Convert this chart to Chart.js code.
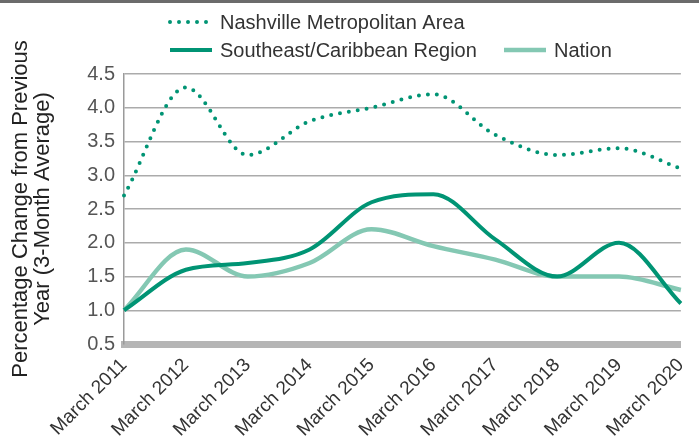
<!DOCTYPE html>
<html lang="en">
<head>
<meta charset="utf-8">
<style>
  html, body { margin: 0; padding: 0; background: #fff; }
  #wrap { width: 699px; height: 448px; }
</style>
</head>
<body>
<div id="wrap"><canvas id="myChart"></canvas></div>

<script src="https://cdn.jsdelivr.net/npm/chart.js"></script>
<script>
    var labels = ['March 2011', 'March 2012', 'March 2013', 'March 2014', 'March 2015',
                  'March 2016', 'March 2017', 'March 2018', 'March 2019', 'March 2020'];
    var nashville = [2.7, 4.3, 3.3, 3.8, 4.0, 4.2, 3.6, 3.3, 3.4, 3.1];
    var southeast = [1.0, 1.6, 1.7, 1.9, 2.6, 2.72, 2.05, 1.5, 2.0, 1.1];
    var nation = [1.0, 1.9, 1.5, 1.7, 2.2, 1.95, 1.75, 1.5, 1.5, 1.3];
    var yTitle = ['Percentage Change from Previous', 'Year (3-Month Average)'];

    var dark = '#009474';
    var light = '#84c8b3';
    var font = '"Liberation Sans", Arial, sans-serif';

    // legend drawn by hand: two rows like the original
    var legendPlugin = {
        id: 'manualLegend',
        beforeDraw: function (chart) {
            var ctx = chart.ctx;
            ctx.save();
            ctx.fillStyle = '#6b6b6b';
            ctx.fillRect(0, 0, chart.width, 3);
            ctx.restore();
        },
        afterDraw: function (chart) {
            var ctx = chart.ctx;
            var items = [
                {ds: 0, x: 168, y: 22},
                {ds: 1, x: 168, y: 50},
                {ds: 2, x: 502, y: 50}
            ];
            ctx.save();
            ctx.font = '20px ' + font;
            ctx.textBaseline = 'middle';
            items.forEach(function (it) {
                var ds = chart.data.datasets[it.ds];
                ctx.beginPath();
                ctx.strokeStyle = ds.borderColor;
                ctx.lineWidth = ds.borderWidth;
                ctx.lineCap = ds.borderDash ? 'round' : 'butt';
                ctx.setLineDash(ds.borderDash || []);
                ctx.moveTo(it.x + 2, it.y);
                ctx.lineTo(it.x + 44, it.y);
                ctx.stroke();
                ctx.setLineDash([]);
                ctx.fillStyle = '#333';
                ctx.fillText(ds.label, it.x + 52, it.y + 1);
            });
            ctx.restore();
        }
    };

    var config = {
        type: 'line',
        data: {
            labels: labels,
            datasets: [{
                label: 'Nashville Metropolitan Area',
                data: nashville,
                borderColor: dark,
                borderWidth: 4,
                borderDash: [0, 9],
                borderCapStyle: 'round',
                pointRadius: 0,
                cubicInterpolationMode: 'monotone'
            }, {
                label: 'Southeast/Caribbean Region',
                data: southeast,
                borderColor: dark,
                borderWidth: 4,
                pointRadius: 0,
                cubicInterpolationMode: 'monotone'
            }, {
                label: 'Nation',
                data: nation,
                borderColor: light,
                borderWidth: 4.5,
                pointRadius: 0,
                cubicInterpolationMode: 'monotone'
            }]
        },
        options: {
            responsive: true,
            maintainAspectRatio: false,
            animation: false,
            layout: { padding: { top: 74, right: 14, left: 10, bottom: 0 } },
            plugins: {
                legend: { display: false },
                tooltip: { enabled: false }
            },
            scales: {
                x: {
                    grid: { display: false },
                    border: { display: true, color: '#b5b5b5', width: 7 },
                    ticks: {
                        minRotation: 45, maxRotation: 45,
                        color: '#333',
                        font: { family: font, size: 19 },
                        padding: 2
                    },
                    afterFit: function (scale) { scale.height = 104; }
                },
                y: {
                    min: 0.5, max: 4.5,
                    grid: { color: '#ababab', lineWidth: 1.5, drawTicks: false },
                    border: { display: true, color: '#9a9a9a', width: 1.5 },
                    ticks: {
                        stepSize: 0.5,
                        color: '#555',
                        font: { family: font, size: 20 },
                        padding: 9,
                        callback: function (v) { return v.toFixed(1); }
                    },
                    title: {
                        display: true,
                        text: yTitle,
                        color: '#222',
                        font: { family: font, size: 22, lineHeight: 1.0 },
                        padding: { top: 0, bottom: 2 }
                    },
                    afterFit: function (scale) { scale.width = 114; }
                }
            }
        },
        plugins: [legendPlugin]
    };

    var myChart = new Chart(document.getElementById('myChart'), config);
</script>
</body>
</html>
